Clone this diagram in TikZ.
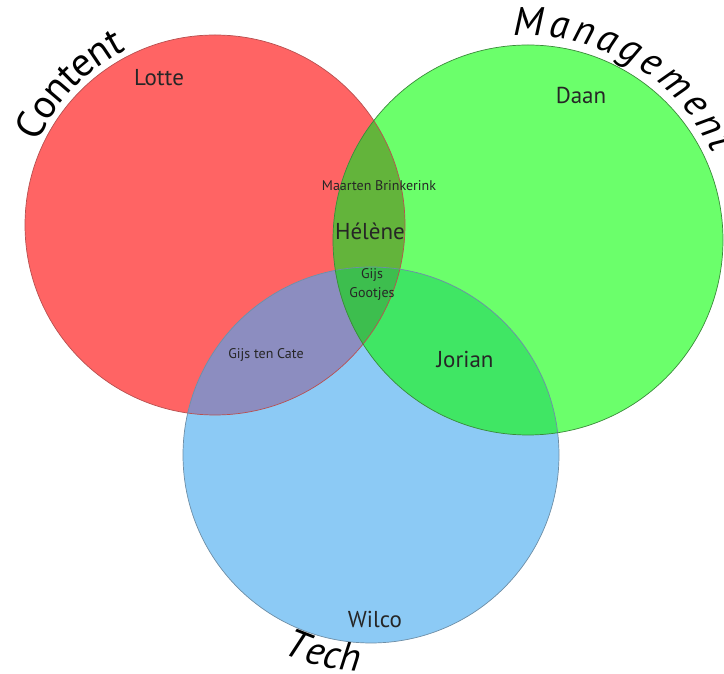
\documentclass[tikz,border=0pt]{standalone}
\usepackage{fontspec}
\setmainfont{PT Sans}
\usetikzlibrary{decorations.text,calc}
\definecolor{cred}{HTML}{FF6464}
\definecolor{cgreen}{HTML}{6BFF6B}
\definecolor{cblue}{HTML}{8CCAF5}
\definecolor{crb}{HTML}{8C8DC0}
\definecolor{cgb}{HTML}{40E664}
\definecolor{crg}{HTML}{63B43B}
\definecolor{crgb}{HTML}{3DBE4E}
\definecolor{ered}{HTML}{B85050}
\definecolor{egreen}{HTML}{3A8A3A}
\definecolor{eblue}{HTML}{6E8EA6}
\newcommand{\bigf}{\fontsize{40}{42}\selectfont}
\newcommand{\bigfi}{\fontsize{40}{42}\selectfont\itshape}
\begin{document}
\begin{tikzpicture}[x=1pt,y=1pt,
  lbl/.style={font=\fontsize{23}{25}\selectfont, text=black!85, inner sep=0pt},
  sml/.style={font=\fontsize{14}{19}\selectfont, text=black!85, inner sep=0pt, align=center},
  ring/.style={line width=0.7pt}]
\useasboundingbox (0,0) rectangle (724,674);
\fill[white] (0,0) rectangle (724,674);
\coordinate (R) at (215,449);
\coordinate (G) at (528,434);
\coordinate (B) at (371,219);
\fill[cred] (R) circle[radius=190];
\fill[cgreen] (G) circle[radius=195];
\fill[cblue] (B) circle[radius=188];
\begin{scope}
  \clip (R) circle[radius=190];
  \fill[crb] (B) circle[radius=188];
\end{scope}
\begin{scope}
  \clip (G) circle[radius=195];
  \fill[cgb] (B) circle[radius=188];
\end{scope}
\begin{scope}
  \clip (R) circle[radius=190];
  \fill[crg] (G) circle[radius=195];
  \clip (G) circle[radius=195];
  \fill[crgb] (B) circle[radius=188];
\end{scope}
\draw[ring, ered] (R) circle[radius=190];
\draw[ring, eblue] (B) circle[radius=188];
\draw[ring, egreen] (G) circle[radius=195];

\node[lbl] (lotte) at (159,596) {Lotte};
\node[lbl] (daan) at (581,579) {Daan};
\node[sml] (maarten) at (379,488) {Maarten Brinkerink};
\node[lbl] (helene) at (370,443) {Hélène};
\node[sml] (gijsg) at (372,389) {Gijs\\Gootjes};
\node[sml] (gijsc) at (266,319) {Gijs ten Cate};
\node[lbl] (jorian) at (465,314) {Jorian};
\node[lbl] (wilco) at (375,54) {Wilco};

\path[font=\bigf, decorate, decoration={text effects along path, text={Content},
  text effects/.cd, text along path, fit text to path,
  characters={font=\bigf}, character widths={font=\bigf}}]
  ($(R)+(155:196)$) arc[start angle=155, end angle=117, radius=196];
\path[font=\bigfi, decorate, decoration={text effects along path, text={Management},
  text effects/.cd, text along path, fit text to path,
  characters={font=\bigfi}, character widths={font=\bigfi}}]
  ($(G)+(94:204)$) arc[start angle=94, end angle=25, radius=204];
\path[font=\bigfi, decorate, decoration={text effects along path, text={Tech},
  text effects/.cd, text along path, fit text to path,
  characters={font=\bigfi}, character widths={font=\bigfi}}]
  ($(B)+(246:217)$) arc[start angle=246, end angle=267, radius=217];
\end{tikzpicture}
\end{document}
